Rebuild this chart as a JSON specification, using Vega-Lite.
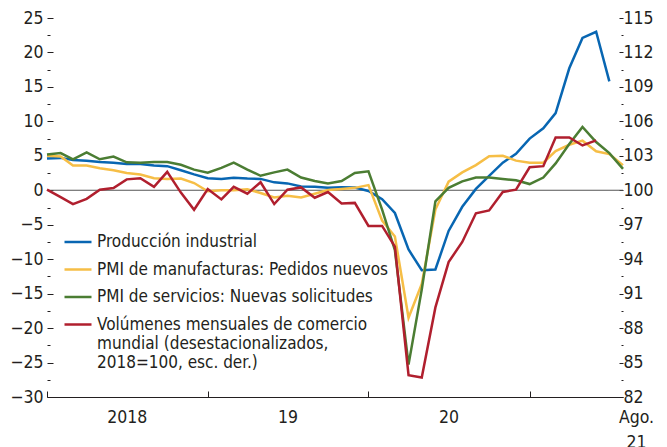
{
  "$schema": "https://vega.github.io/schema/vega-lite/v6.json",
  "width": 576,
  "height": 379,
  "autosize": {"type": "none"},
  "padding": {"left": 47, "top": 18, "right": 44, "bottom": 50},
  "background": "white",
  "config": {
    "view": {"stroke": null},
    "font": "DejaVu Sans Condensed, sans-serif",
    "axis": {
      "labelFont": "DejaVu Sans Condensed, sans-serif",
      "labelFontSize": 17.5,
      "labelColor": "#231f20",
      "tickColor": "#231f20",
      "domainColor": "#231f20",
      "grid": false,
      "title": null
    },
    "legend": {
      "labelFont": "DejaVu Sans Condensed, sans-serif",
      "labelFontSize": 17,
      "labelColor": "#231f20"
    }
  },
  "datasets": {
    "left": [
      {"date":"2018-01-01","series":"Producción industrial","value":4.6},
      {"date":"2018-02-01","series":"Producción industrial","value":4.7},
      {"date":"2018-03-01","series":"Producción industrial","value":4.4},
      {"date":"2018-04-01","series":"Producción industrial","value":4.3},
      {"date":"2018-05-01","series":"Producción industrial","value":4.1},
      {"date":"2018-06-01","series":"Producción industrial","value":4.0},
      {"date":"2018-07-01","series":"Producción industrial","value":3.8},
      {"date":"2018-08-01","series":"Producción industrial","value":3.8},
      {"date":"2018-09-01","series":"Producción industrial","value":3.6},
      {"date":"2018-10-01","series":"Producción industrial","value":3.5},
      {"date":"2018-11-01","series":"Producción industrial","value":2.9},
      {"date":"2018-12-01","series":"Producción industrial","value":2.3},
      {"date":"2019-01-01","series":"Producción industrial","value":1.75},
      {"date":"2019-02-01","series":"Producción industrial","value":1.65},
      {"date":"2019-03-01","series":"Producción industrial","value":1.8},
      {"date":"2019-04-01","series":"Producción industrial","value":1.7},
      {"date":"2019-05-01","series":"Producción industrial","value":1.65},
      {"date":"2019-06-01","series":"Producción industrial","value":1.15},
      {"date":"2019-07-01","series":"Producción industrial","value":1.0},
      {"date":"2019-08-01","series":"Producción industrial","value":0.55},
      {"date":"2019-09-01","series":"Producción industrial","value":0.5},
      {"date":"2019-10-01","series":"Producción industrial","value":0.35},
      {"date":"2019-11-01","series":"Producción industrial","value":0.45},
      {"date":"2019-12-01","series":"Producción industrial","value":0.4},
      {"date":"2020-01-01","series":"Producción industrial","value":-0.1},
      {"date":"2020-02-01","series":"Producción industrial","value":-1.3},
      {"date":"2020-03-01","series":"Producción industrial","value":-3.3},
      {"date":"2020-04-01","series":"Producción industrial","value":-8.6},
      {"date":"2020-05-01","series":"Producción industrial","value":-11.6},
      {"date":"2020-06-01","series":"Producción industrial","value":-11.5},
      {"date":"2020-07-01","series":"Producción industrial","value":-5.9},
      {"date":"2020-08-01","series":"Producción industrial","value":-2.4},
      {"date":"2020-09-01","series":"Producción industrial","value":0.2},
      {"date":"2020-10-01","series":"Producción industrial","value":2.1},
      {"date":"2020-11-01","series":"Producción industrial","value":4.0},
      {"date":"2020-12-01","series":"Producción industrial","value":5.3},
      {"date":"2021-01-01","series":"Producción industrial","value":7.5},
      {"date":"2021-02-01","series":"Producción industrial","value":9.0},
      {"date":"2021-03-01","series":"Producción industrial","value":11.2},
      {"date":"2021-04-01","series":"Producción industrial","value":17.7},
      {"date":"2021-05-01","series":"Producción industrial","value":22.1},
      {"date":"2021-06-01","series":"Producción industrial","value":23.0},
      {"date":"2021-07-01","series":"Producción industrial","value":15.8},

      {"date":"2018-01-01","series":"PMI de manufacturas: Pedidos nuevos","value":5.0},
      {"date":"2018-02-01","series":"PMI de manufacturas: Pedidos nuevos","value":4.9},
      {"date":"2018-03-01","series":"PMI de manufacturas: Pedidos nuevos","value":3.6},
      {"date":"2018-04-01","series":"PMI de manufacturas: Pedidos nuevos","value":3.6},
      {"date":"2018-05-01","series":"PMI de manufacturas: Pedidos nuevos","value":3.2},
      {"date":"2018-06-01","series":"PMI de manufacturas: Pedidos nuevos","value":2.9},
      {"date":"2018-07-01","series":"PMI de manufacturas: Pedidos nuevos","value":2.5},
      {"date":"2018-08-01","series":"PMI de manufacturas: Pedidos nuevos","value":2.3},
      {"date":"2018-09-01","series":"PMI de manufacturas: Pedidos nuevos","value":1.75},
      {"date":"2018-10-01","series":"PMI de manufacturas: Pedidos nuevos","value":1.65},
      {"date":"2018-11-01","series":"PMI de manufacturas: Pedidos nuevos","value":1.7},
      {"date":"2018-12-01","series":"PMI de manufacturas: Pedidos nuevos","value":1.05},
      {"date":"2019-01-01","series":"PMI de manufacturas: Pedidos nuevos","value":-0.15},
      {"date":"2019-02-01","series":"PMI de manufacturas: Pedidos nuevos","value":0.0},
      {"date":"2019-03-01","series":"PMI de manufacturas: Pedidos nuevos","value":0.0},
      {"date":"2019-04-01","series":"PMI de manufacturas: Pedidos nuevos","value":0.15},
      {"date":"2019-05-01","series":"PMI de manufacturas: Pedidos nuevos","value":-0.4},
      {"date":"2019-06-01","series":"PMI de manufacturas: Pedidos nuevos","value":-1.05},
      {"date":"2019-07-01","series":"PMI de manufacturas: Pedidos nuevos","value":-0.8},
      {"date":"2019-08-01","series":"PMI de manufacturas: Pedidos nuevos","value":-1.05},
      {"date":"2019-09-01","series":"PMI de manufacturas: Pedidos nuevos","value":-0.5},
      {"date":"2019-10-01","series":"PMI de manufacturas: Pedidos nuevos","value":0.05},
      {"date":"2019-11-01","series":"PMI de manufacturas: Pedidos nuevos","value":0.2},
      {"date":"2019-12-01","series":"PMI de manufacturas: Pedidos nuevos","value":0.35},
      {"date":"2020-01-01","series":"PMI de manufacturas: Pedidos nuevos","value":0.75},
      {"date":"2020-02-01","series":"PMI de manufacturas: Pedidos nuevos","value":-4.4},
      {"date":"2020-03-01","series":"PMI de manufacturas: Pedidos nuevos","value":-6.7},
      {"date":"2020-04-01","series":"PMI de manufacturas: Pedidos nuevos","value":-18.5},
      {"date":"2020-05-01","series":"PMI de manufacturas: Pedidos nuevos","value":-13.6},
      {"date":"2020-06-01","series":"PMI de manufacturas: Pedidos nuevos","value":-2.8},
      {"date":"2020-07-01","series":"PMI de manufacturas: Pedidos nuevos","value":1.25},
      {"date":"2020-08-01","series":"PMI de manufacturas: Pedidos nuevos","value":2.6},
      {"date":"2020-09-01","series":"PMI de manufacturas: Pedidos nuevos","value":3.65},
      {"date":"2020-10-01","series":"PMI de manufacturas: Pedidos nuevos","value":4.95},
      {"date":"2020-11-01","series":"PMI de manufacturas: Pedidos nuevos","value":5.0},
      {"date":"2020-12-01","series":"PMI de manufacturas: Pedidos nuevos","value":4.3},
      {"date":"2021-01-01","series":"PMI de manufacturas: Pedidos nuevos","value":4.0},
      {"date":"2021-02-01","series":"PMI de manufacturas: Pedidos nuevos","value":4.0},
      {"date":"2021-03-01","series":"PMI de manufacturas: Pedidos nuevos","value":5.7},
      {"date":"2021-04-01","series":"PMI de manufacturas: Pedidos nuevos","value":6.6},
      {"date":"2021-05-01","series":"PMI de manufacturas: Pedidos nuevos","value":7.2},
      {"date":"2021-06-01","series":"PMI de manufacturas: Pedidos nuevos","value":5.65},
      {"date":"2021-07-01","series":"PMI de manufacturas: Pedidos nuevos","value":5.25},
      {"date":"2021-08-01","series":"PMI de manufacturas: Pedidos nuevos","value":3.65},

      {"date":"2018-01-01","series":"PMI de servicios: Nuevas solicitudes","value":5.2},
      {"date":"2018-02-01","series":"PMI de servicios: Nuevas solicitudes","value":5.4},
      {"date":"2018-03-01","series":"PMI de servicios: Nuevas solicitudes","value":4.5},
      {"date":"2018-04-01","series":"PMI de servicios: Nuevas solicitudes","value":5.5},
      {"date":"2018-05-01","series":"PMI de servicios: Nuevas solicitudes","value":4.5},
      {"date":"2018-06-01","series":"PMI de servicios: Nuevas solicitudes","value":4.9},
      {"date":"2018-07-01","series":"PMI de servicios: Nuevas solicitudes","value":4.05},
      {"date":"2018-08-01","series":"PMI de servicios: Nuevas solicitudes","value":4.0},
      {"date":"2018-09-01","series":"PMI de servicios: Nuevas solicitudes","value":4.1},
      {"date":"2018-10-01","series":"PMI de servicios: Nuevas solicitudes","value":4.1},
      {"date":"2018-11-01","series":"PMI de servicios: Nuevas solicitudes","value":3.7},
      {"date":"2018-12-01","series":"PMI de servicios: Nuevas solicitudes","value":3.0},
      {"date":"2019-01-01","series":"PMI de servicios: Nuevas solicitudes","value":2.55},
      {"date":"2019-02-01","series":"PMI de servicios: Nuevas solicitudes","value":3.25},
      {"date":"2019-03-01","series":"PMI de servicios: Nuevas solicitudes","value":4.0},
      {"date":"2019-04-01","series":"PMI de servicios: Nuevas solicitudes","value":3.0},
      {"date":"2019-05-01","series":"PMI de servicios: Nuevas solicitudes","value":2.1},
      {"date":"2019-06-01","series":"PMI de servicios: Nuevas solicitudes","value":2.6},
      {"date":"2019-07-01","series":"PMI de servicios: Nuevas solicitudes","value":3.0},
      {"date":"2019-08-01","series":"PMI de servicios: Nuevas solicitudes","value":1.85},
      {"date":"2019-09-01","series":"PMI de servicios: Nuevas solicitudes","value":1.35},
      {"date":"2019-10-01","series":"PMI de servicios: Nuevas solicitudes","value":1.0},
      {"date":"2019-11-01","series":"PMI de servicios: Nuevas solicitudes","value":1.35},
      {"date":"2019-12-01","series":"PMI de servicios: Nuevas solicitudes","value":2.5},
      {"date":"2020-01-01","series":"PMI de servicios: Nuevas solicitudes","value":2.75},
      {"date":"2020-02-01","series":"PMI de servicios: Nuevas solicitudes","value":-2.8},
      {"date":"2020-03-01","series":"PMI de servicios: Nuevas solicitudes","value":-8.7},
      {"date":"2020-04-01","series":"PMI de servicios: Nuevas solicitudes","value":-25.3},
      {"date":"2020-05-01","series":"PMI de servicios: Nuevas solicitudes","value":-14.4},
      {"date":"2020-06-01","series":"PMI de servicios: Nuevas solicitudes","value":-1.6},
      {"date":"2020-07-01","series":"PMI de servicios: Nuevas solicitudes","value":0.35},
      {"date":"2020-08-01","series":"PMI de servicios: Nuevas solicitudes","value":1.3},
      {"date":"2020-09-01","series":"PMI de servicios: Nuevas solicitudes","value":1.85},
      {"date":"2020-10-01","series":"PMI de servicios: Nuevas solicitudes","value":1.85},
      {"date":"2020-11-01","series":"PMI de servicios: Nuevas solicitudes","value":1.65},
      {"date":"2020-12-01","series":"PMI de servicios: Nuevas solicitudes","value":1.45},
      {"date":"2021-01-01","series":"PMI de servicios: Nuevas solicitudes","value":0.9},
      {"date":"2021-02-01","series":"PMI de servicios: Nuevas solicitudes","value":1.85},
      {"date":"2021-03-01","series":"PMI de servicios: Nuevas solicitudes","value":3.9},
      {"date":"2021-04-01","series":"PMI de servicios: Nuevas solicitudes","value":6.7},
      {"date":"2021-05-01","series":"PMI de servicios: Nuevas solicitudes","value":9.2},
      {"date":"2021-06-01","series":"PMI de servicios: Nuevas solicitudes","value":7.0},
      {"date":"2021-07-01","series":"PMI de servicios: Nuevas solicitudes","value":5.4},
      {"date":"2021-08-01","series":"PMI de servicios: Nuevas solicitudes","value":3.1}
    ],
    "trade": [
      {"date":"2018-01-01","series":"Volúmenes mensuales de comercio mundial","value":100.05},
      {"date":"2018-02-01","series":"Volúmenes mensuales de comercio mundial","value":99.4},
      {"date":"2018-03-01","series":"Volúmenes mensuales de comercio mundial","value":98.8},
      {"date":"2018-04-01","series":"Volúmenes mensuales de comercio mundial","value":99.25},
      {"date":"2018-05-01","series":"Volúmenes mensuales de comercio mundial","value":100.05},
      {"date":"2018-06-01","series":"Volúmenes mensuales de comercio mundial","value":100.2},
      {"date":"2018-07-01","series":"Volúmenes mensuales de comercio mundial","value":100.95},
      {"date":"2018-08-01","series":"Volúmenes mensuales de comercio mundial","value":101.05},
      {"date":"2018-09-01","series":"Volúmenes mensuales de comercio mundial","value":100.3},
      {"date":"2018-10-01","series":"Volúmenes mensuales de comercio mundial","value":101.6},
      {"date":"2018-11-01","series":"Volúmenes mensuales de comercio mundial","value":99.8},
      {"date":"2018-12-01","series":"Volúmenes mensuales de comercio mundial","value":98.3},
      {"date":"2019-01-01","series":"Volúmenes mensuales de comercio mundial","value":100.1},
      {"date":"2019-02-01","series":"Volúmenes mensuales de comercio mundial","value":99.2},
      {"date":"2019-03-01","series":"Volúmenes mensuales de comercio mundial","value":100.3},
      {"date":"2019-04-01","series":"Volúmenes mensuales de comercio mundial","value":99.7},
      {"date":"2019-05-01","series":"Volúmenes mensuales de comercio mundial","value":100.7},
      {"date":"2019-06-01","series":"Volúmenes mensuales de comercio mundial","value":98.8},
      {"date":"2019-07-01","series":"Volúmenes mensuales de comercio mundial","value":100.05},
      {"date":"2019-08-01","series":"Volúmenes mensuales de comercio mundial","value":100.25},
      {"date":"2019-09-01","series":"Volúmenes mensuales de comercio mundial","value":99.35},
      {"date":"2019-10-01","series":"Volúmenes mensuales de comercio mundial","value":99.85},
      {"date":"2019-11-01","series":"Volúmenes mensuales de comercio mundial","value":98.85},
      {"date":"2019-12-01","series":"Volúmenes mensuales de comercio mundial","value":98.9},
      {"date":"2020-01-01","series":"Volúmenes mensuales de comercio mundial","value":96.9},
      {"date":"2020-02-01","series":"Volúmenes mensuales de comercio mundial","value":96.9},
      {"date":"2020-03-01","series":"Volúmenes mensuales de comercio mundial","value":95.1},
      {"date":"2020-04-01","series":"Volúmenes mensuales de comercio mundial","value":83.9},
      {"date":"2020-05-01","series":"Volúmenes mensuales de comercio mundial","value":83.7},
      {"date":"2020-06-01","series":"Volúmenes mensuales de comercio mundial","value":89.8},
      {"date":"2020-07-01","series":"Volúmenes mensuales de comercio mundial","value":93.75},
      {"date":"2020-08-01","series":"Volúmenes mensuales de comercio mundial","value":95.5},
      {"date":"2020-09-01","series":"Volúmenes mensuales de comercio mundial","value":98.0},
      {"date":"2020-10-01","series":"Volúmenes mensuales de comercio mundial","value":98.25},
      {"date":"2020-11-01","series":"Volúmenes mensuales de comercio mundial","value":99.85},
      {"date":"2020-12-01","series":"Volúmenes mensuales de comercio mundial","value":100.05},
      {"date":"2021-01-01","series":"Volúmenes mensuales de comercio mundial","value":102.0},
      {"date":"2021-02-01","series":"Volúmenes mensuales de comercio mundial","value":102.1},
      {"date":"2021-03-01","series":"Volúmenes mensuales de comercio mundial","value":104.6},
      {"date":"2021-04-01","series":"Volúmenes mensuales de comercio mundial","value":104.6},
      {"date":"2021-05-01","series":"Volúmenes mensuales de comercio mundial","value":103.9},
      {"date":"2021-06-01","series":"Volúmenes mensuales de comercio mundial","value":104.35}
    ]
  },
  "layer": [
    {
      "data": {"values": [{"ref": 0}]},
      "mark": {"type": "rule", "color": "#555555", "strokeWidth": 1.2},
      "encoding": {
        "y": {
          "field": "ref", "type": "quantitative",
          "scale": {"domain": [-30, 25], "nice": false, "zero": false},
          "axis": {"orient": "left", "values": [-27.5, -22.5, -17.5, -12.5, -7.5, -2.5, 2.5, 7.5, 12.5, 17.5, 22.5], "tickSize": -3, "labels": false, "domain": false, "title": null}
        }
      }
    },
    {
      "data": {"name": "left"},
      "mark": {"type": "line", "strokeWidth": 2.5},
      "encoding": {
        "x": {
          "field": "date", "type": "temporal",
          "scale": {"type": "utc", "domain": [{"year": 2018, "month": 1, "date": 1, "utc": true}, {"year": 2021, "month": 8, "date": 1, "utc": true}]},
          "axis": {
            "values": [
              {"year": 2018, "month": 1, "date": 1, "utc": true},
              {"year": 2018, "month": 7, "date": 1, "utc": true},
              {"year": 2019, "month": 1, "date": 1, "utc": true},
              {"year": 2019, "month": 7, "date": 1, "utc": true},
              {"year": 2020, "month": 1, "date": 1, "utc": true},
              {"year": 2020, "month": 7, "date": 1, "utc": true},
              {"year": 2021, "month": 1, "date": 1, "utc": true},
              {"year": 2021, "month": 8, "date": 1, "utc": true}
            ],
            "tickSize": -6,
            "tickOpacity": {"condition": {"test": "utcmonth(datum.value) != 0", "value": 0}, "value": 1},
            "labelExpr": "utcmonth(datum.value) == 6 ? (utcyear(datum.value) == 2018 ? '2018' : substring(toString(utcyear(datum.value)), 2, 4)) : (utcmonth(datum.value) == 7 ? ['Ago.', '21'] : '')",
            "labelOffset": {"condition": {"test": "utcmonth(datum.value) == 7", "value": 13}, "value": 0},
            "labelBaseline": "top",
            "labelLineHeight": 25,
            "labelPadding": 17,
            "labelFlush": false,
            "labelOverlap": false,
            "labelBound": false,
            "domain": true,
            "domainWidth": 1.2,
            "title": null
          }
        },
        "y": {
          "field": "value", "type": "quantitative",
          "scale": {"domain": [-30, 25], "nice": false, "zero": false},
          "axis": {"orient": "left", "values": [-30, -25, -20, -15, -10, -5, 0, 5, 10, 15, 20, 25], "tickSize": -6, "labelPadding": 10, "domain": false, "title": null}
        },
        "color": {
          "field": "series", "type": "nominal",
          "scale": {
            "domain": ["Producción industrial", "PMI de manufacturas: Pedidos nuevos", "PMI de servicios: Nuevas solicitudes", "Volúmenes mensuales de comercio mundial"],
            "range": ["#0866b2", "#f6be46", "#4b7d33", "#b01f2e"]
          },
          "legend": {
            "orient": "none",
            "legendX": 16,
            "legendY": 209,
            "title": null,
            "padding": 0,
            "symbolType": "stroke",
            "symbolSize": 729,
            "symbolStrokeWidth": 2.5,
            "labelOffset": 4,
            "rowPadding": 4.5,
            "labelLimit": 600,
            "labelExpr": "indexof(datum.label, 'Volúmenes') == 0 ? ['Volúmenes mensuales de comercio', 'mundial (desestacionalizados,', '2018=100, esc. der.)'] : datum.label"
          }
        }
      }
    },
    {
      "data": {"name": "trade"},
      "mark": {"type": "line", "strokeWidth": 2.5},
      "encoding": {
        "x": {"field": "date", "type": "temporal"},
        "y": {
          "field": "value", "type": "quantitative",
          "scale": {"domain": [82, 115], "nice": false, "zero": false},
          "axis": {"orient": "right", "values": [82, 85, 88, 91, 94, 97, 100, 103, 106, 109, 112, 115], "tickSize": -4, "labelPadding": 4, "domain": false, "title": null}
        },
        "color": {
          "field": "series", "type": "nominal",
          "scale": {
            "domain": ["Producción industrial", "PMI de manufacturas: Pedidos nuevos", "PMI de servicios: Nuevas solicitudes", "Volúmenes mensuales de comercio mundial"],
            "range": ["#0866b2", "#f6be46", "#4b7d33", "#b01f2e"]
          }
        }
      }
    },
    {
      "data": {"values": [{"ref": 100}]},
      "mark": {"type": "rule", "strokeOpacity": 0},
      "encoding": {
        "y": {
          "field": "ref", "type": "quantitative",
          "scale": {"domain": [82, 115], "nice": false, "zero": false},
          "axis": {"orient": "right", "values": [83.5, 86.5, 89.5, 92.5, 95.5, 98.5, 101.5, 104.5, 107.5, 110.5, 113.5], "tickSize": -2, "labels": false, "domain": false, "title": null}
        }
      }
    }
  ],
  "resolve": {"scale": {"y": "independent"}, "axis": {"y": "independent"}}
}
